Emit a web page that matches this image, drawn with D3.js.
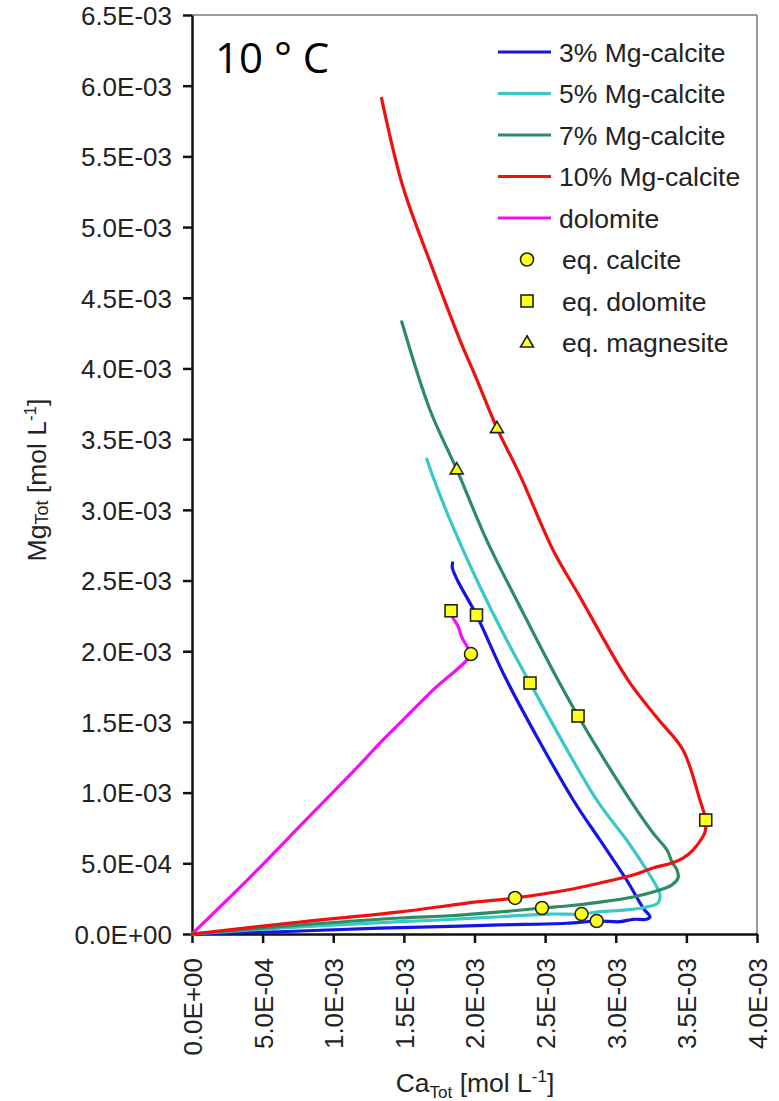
<!DOCTYPE html>
<html>
<head>
<meta charset="utf-8">
<script src="https://cdn.jsdelivr.net/npm/d3@7"></script>
<style>
  html, body { margin: 0; padding: 0; background: #fff; }
  svg { display: block; font-family: "Liberation Sans", Arial, sans-serif; }
</style>
</head>
<body>
<svg id="chart" width="779" height="1101"></svg>
<script>
// ---- Data (values in units of 1E-3 mol/L) ----
const xTicks = [0, 0.5, 1.0, 1.5, 2.0, 2.5, 3.0, 3.5, 4.0];
const yTicks = [0, 0.5, 1.0, 1.5, 2.0, 2.5, 3.0, 3.5, 4.0, 4.5, 5.0, 5.5, 6.0, 6.5];

const seriesNames = ["3% Mg-calcite", "5% Mg-calcite", "7% Mg-calcite", "10% Mg-calcite", "dolomite"];
const seriesColors = ["#1414e6", "#38c8c8", "#2e8b62", "#f01010", "#f010f0"];

const mg3 = [[0,0],[0.623,0.016],[1.331,0.042],[1.756,0.052],[2.181,0.064],[2.652,0.076],[2.865,0.092],
  [3.030,0.087],[3.124,0.104],[3.219,0.104],[3.242,0.122],[3.195,0.182],[3.077,0.382],[2.888,0.665],
  [2.699,0.948],[2.227,1.796],[2.014,2.256],[1.880,2.500],[1.843,2.590],[1.845,2.625]];
const mg5 = [[0,0],[0.765,0.050],[1.473,0.087],[1.756,0.099],[2.181,0.122],[2.535,0.141],[2.758,0.141],
  [2.889,0.158],[3.077,0.170],[3.219,0.191],[3.299,0.219],[3.313,0.276],[3.290,0.334],[3.219,0.453],
  [3.077,0.665],[2.865,0.948],[2.393,1.775],[2.228,2.079],[2.039,2.456],[1.837,2.904],[1.700,3.250],[1.662,3.359]];
const mg7 = [[0,0],[0.765,0.064],[1.473,0.113],[1.827,0.129],[2.181,0.156],[2.478,0.184],[2.655,0.198],
  [2.889,0.226],[3.122,0.262],[3.264,0.297],[3.398,0.347],[3.441,0.396],[3.434,0.453],[3.398,0.509],
  [3.363,0.594],[3.264,0.714],[3.101,0.948],[2.733,1.542],[2.591,1.796],[2.322,2.315],[2.086,2.786],
  [1.874,3.286],[1.685,3.706],[1.485,4.330]];
const mg10 = [[0,0],[0.765,0.085],[1.473,0.156],[1.947,0.219],[2.287,0.255],[2.655,0.311],[2.889,0.361],
  [3.122,0.417],[3.264,0.467],[3.398,0.502],[3.476,0.537],[3.547,0.594],[3.611,0.679],[3.632,0.721],
  [3.637,0.806],[3.596,0.948],[3.476,1.301],[3.300,1.520],[3.087,1.796],[2.747,2.383],[2.556,2.716],[2.322,3.246],
  [2.159,3.578],[2.018,3.918],[1.897,4.201],[1.699,4.717],[1.494,5.283],[1.342,5.910]];
const dolo = [[0,0],[0.40,0.39],[0.80,0.80],[1.20,1.21],[1.32,1.34],[1.50,1.52],[1.70,1.72],[1.975,1.980],
  [1.954,2.022],[1.909,2.102],[1.885,2.173],[1.850,2.233],[1.834,2.286]];

const eqCalcite = [[2.287,0.255],[2.478,0.184],[2.758,0.141],[2.865,0.092],[1.975,1.980]];
const eqDolomite = [[1.834,2.286],[2.014,2.256],[2.393,1.775],[2.733,1.542],[3.637,0.806]];
const eqMagnesite = [[1.874,3.286],[2.159,3.578]];

const markerNames = ["eq. calcite", "eq. dolomite", "eq. magnesite"];
const markerShapes = ["circle", "square", "triangle"];

// ---- Layout ----
const svg = d3.select("#chart");
const L = 192, R = 757, T = 15, B = 934;
const x = d3.scaleLinear().domain([0, 4.0]).range([L, R]);
const y = d3.scaleLinear().domain([0, 6.5]).range([B, T]);

function fmt(v) {
  const val = v * 1e-3;
  if (val === 0) return "0.0E+00";
  let s = val.toExponential(1).toUpperCase();
  const m = s.match(/^(.*)E([+-])(\d+)$/);
  return m[1] + "E" + m[2] + m[3].padStart(2, "0");
}

// frame (top & right)
svg.append("line").attr("x1", L).attr("x2", R).attr("y1", T).attr("y2", T)
  .attr("stroke", "#777").attr("stroke-width", 1.5);
svg.append("line").attr("x1", R).attr("x2", R).attr("y1", T).attr("y2", B)
  .attr("stroke", "#777").attr("stroke-width", 1.5);

// axes
const xAxis = svg.append("g").attr("transform", `translate(0,${B})`)
  .call(d3.axisBottom(x).tickValues(xTicks).tickSize(9).tickSizeOuter(0).tickFormat(fmt));
xAxis.selectAll("text")
  .attr("transform", "rotate(-90)")
  .attr("text-anchor", "end")
  .attr("x", -24).attr("y", 0).attr("dy", "0.36em")
  .style("font-size", "26px").attr("fill", "#222");
const yAxis = svg.append("g").attr("transform", `translate(${L},0)`)
  .call(d3.axisLeft(y).tickValues(yTicks).tickSize(9).tickSizeOuter(0).tickFormat(fmt));
yAxis.selectAll("text").attr("x", -20).attr("dy", "0.36em")
  .style("font-size", "26px").attr("fill", "#222");
svg.selectAll(".domain").attr("stroke", "#111").attr("stroke-width", 2.5);
svg.selectAll(".tick line").attr("stroke", "#111").attr("stroke-width", 2.5);
svg.selectAll(".tick text").style("font-family", "'Liberation Sans', Arial, sans-serif");

// lines
const line = d3.line().x(d => x(d[0])).y(d => y(d[1])).curve(d3.curveCatmullRom.alpha(0.5));
const allSeries = [mg3, mg5, mg7, mg10, dolo];
const drawOrder = [4, 0, 1, 2, 3];
drawOrder.forEach(i => {
  svg.append("path").datum(allSeries[i]).attr("d", line)
    .attr("fill", "none").attr("stroke", seriesColors[i]).attr("stroke-width", 3.2)
    .attr("stroke-linejoin", "round").attr("stroke-linecap", "round");
});

// markers
const yellow = "#ffff1a";
function drawMarker(g, shape, cx, cy) {
  if (shape === "circle") {
    g.append("circle").attr("cx", cx).attr("cy", cy).attr("r", 6.5)
      .attr("fill", yellow).attr("stroke", "#222").attr("stroke-width", 1.6);
  } else if (shape === "square") {
    g.append("rect").attr("x", cx - 6).attr("y", cy - 6).attr("width", 12).attr("height", 12)
      .attr("fill", yellow).attr("stroke", "#222").attr("stroke-width", 1.6);
  } else {
    const s = 13, h = s * 0.866;
    g.append("path")
      .attr("d", `M${cx},${cy - h * 0.6}L${cx + s / 2},${cy + h * 0.4}L${cx - s / 2},${cy + h * 0.4}Z`)
      .attr("fill", yellow).attr("stroke", "#222").attr("stroke-width", 1.6);
  }
}
const mg = svg.append("g");
[eqCalcite, eqDolomite, eqMagnesite].forEach((arr, k) => {
  arr.forEach(d => drawMarker(mg, markerShapes[k], x(d[0]), y(d[1])));
});

// title
svg.append("text").attr("x", 215).attr("y", 73)
  .style("font-family", "'Open Sans', sans-serif").style("font-size", "42px").attr("fill", "#000")
  .text("10 ° C");

// legend
const lg = svg.append("g");
const legY0 = 52, legStep = 41.5;
seriesNames.forEach((n, i) => {
  const yy = legY0 + i * legStep;
  lg.append("line").attr("x1", 498).attr("x2", 551).attr("y1", yy).attr("y2", yy)
    .attr("stroke", seriesColors[i]).attr("stroke-width", 3);
  lg.append("text").attr("x", 559).attr("y", yy).attr("dy", "0.36em")
    .style("font-size", "26.5px").attr("fill", "#222").text(n);
});
markerNames.forEach((n, k) => {
  const yy = legY0 + (seriesNames.length + k) * legStep;
  drawMarker(lg, markerShapes[k], 527, yy);
  lg.append("text").attr("x", 562).attr("y", yy).attr("dy", "0.36em")
    .style("font-size", "26.5px").attr("fill", "#222").text(n);
});

// axis titles
const xt = svg.append("text").attr("x", 475).attr("y", 1092).attr("text-anchor", "middle")
  .style("font-size", "26.5px").attr("fill", "#222");
xt.append("tspan").text("Ca");
xt.append("tspan").attr("dy", 6).style("font-size", "17px").text("Tot");
xt.append("tspan").attr("dy", -6).text("  [mol L");
xt.append("tspan").attr("dy", -10).style("font-size", "17px").text("-1");
xt.append("tspan").attr("dy", 10).text("]");

const yt = svg.append("text").attr("transform", "translate(46,480) rotate(-90)")
  .attr("text-anchor", "middle").style("font-size", "26.5px").attr("fill", "#222");
yt.append("tspan").text("Mg");
yt.append("tspan").attr("dy", 2).style("font-size", "18px").text("Tot");
yt.append("tspan").attr("dy", -2).text(" [mol L");
yt.append("tspan").attr("dy", -10).style("font-size", "17px").text("-1");
yt.append("tspan").attr("dy", 10).text("]");
</script>
</body>
</html>
